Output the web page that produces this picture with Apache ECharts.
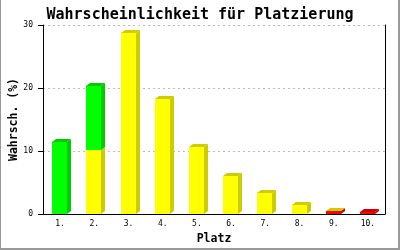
<!DOCTYPE html>
<html>
<head>
<meta charset="utf-8">
<script src="https://cdn.jsdelivr.net/npm/echarts@6/dist/echarts.min.js"></script>
<style>
html,body{margin:0;padding:0;background:#fff;}
#chart{width:400px;height:250px;}
</style>
</head>
<body>
<div id="chart"></div>
<script>
// ---- data ----
const categories = ['1.', '2.', '3.', '4.', '5.', '6.', '7.', '8.', '9.', '10.'];
const redValues    = [0, 0, 0, 0, 0, 0, 0, 0, 0.4, 0.3];
const yellowValues = [0, 10.2, 28.7, 18.3, 10.7, 6.0, 3.3, 1.5, 0.1, 0];
const greenValues  = [11.4, 10.05, 0, 0, 0, 0, 0, 0, 0, 0];
const yTickValues  = [0, 10, 20, 30];
const titleText = 'Wahrscheinlichkeit für Platzierung';
const xName = 'Platz';
const yName = 'Wahrsch. (%)';

// stacking order bottom -> top
const stackSeries = [
  { name: 'rot',  values: redValues,    front: '#ff0000', dark: '#cc0000' },
  { name: 'gelb', values: yellowValues, front: '#ffff00', dark: '#cccc00' },
  { name: 'grün', values: greenValues,  front: '#00ff00', dark: '#00cc00' }
];

const MONO = '"DejaVu Sans Mono", "Liberation Mono", monospace';
const FRONT_W = 15, DX = 4, DY = 3;

function buildData(sIdx) {
  const out = [];
  for (let i = 0; i < categories.length; i++) {
    let base = 0;
    for (let k = 0; k < sIdx; k++) base += stackSeries[k].values[i];
    const v = stackSeries[sIdx].values[i];
    let isTop = 1;
    for (let k = sIdx + 1; k < stackSeries.length; k++) if (stackSeries[k].values[i] > 0) isTop = 0;
    out.push([i, base, base + v, isTop]);
  }
  return out;
}

function makeRender(s) {
  return function (params, api) {
    const i = api.value(0), b = api.value(1), t = api.value(2), isTop = api.value(3);
    if (!(t > b)) return null;
    const pb = api.coord([i, b]);
    const pt = api.coord([i, t]);
    const x0 = Math.round(pb[0]) - 8;
    const x1 = x0 + FRONT_W;
    const yb = Math.round(pb[1]);
    const yt = Math.round(pt[1]);
    const children = [
      { type: 'polygon', shape: { points: [[x1, yt], [x1 + DX, yt - DY], [x1 + DX, yb - DY], [x1, yb]] },
        style: { fill: s.dark } },
      { type: 'rect', shape: { x: x0, y: yt, width: FRONT_W, height: yb - yt },
        style: { fill: s.front } }
    ];
    if (isTop) {
      children.push({ type: 'polygon',
        shape: { points: [[x0, yt], [x0 + DX, yt - DY], [x1 + DX, yt - DY], [x1, yt]] },
        style: { fill: s.dark } });
    }
    return { type: 'group', children: children };
  };
}

const chart = echarts.init(document.getElementById('chart'), null, { renderer: 'canvas' });
chart.setOption({
  animation: false,
  backgroundColor: '#ffffff',
  title: {
    text: titleText, left: 'center', top: 3,
    textStyle: { fontFamily: MONO, fontSize: 15, fontWeight: 'bold', color: '#000' }
  },
  grid: { left: 43, right: 15, top: 25, bottom: 36, containLabel: false, outerBoundsMode: 'none' },
  xAxis: {
    type: 'category', data: categories, boundaryGap: true,
    name: xName, nameLocation: 'middle', nameGap: 19, nameMoveOverlap: false,
    nameTextStyle: { fontFamily: MONO, fontSize: 11.5, fontWeight: 'bold', color: '#000' },
    axisLine: { show: true, lineStyle: { color: '#000', width: 1 } },
    axisTick: { show: false },
    axisLabel: { fontFamily: MONO, fontSize: 8, color: '#000', margin: 6 },
    splitLine: { show: false }
  },
  yAxis: [{
    type: 'value', min: yTickValues[0], max: yTickValues[yTickValues.length - 1], interval: 10,
    name: yName, nameLocation: 'middle', nameRotate: 90, nameGap: 23, nameMoveOverlap: false,
    nameTextStyle: { fontFamily: MONO, fontSize: 11.5, fontWeight: 'bold', color: '#000' },
    axisLine: { show: true, lineStyle: { color: '#000', width: 1 } },
    axisTick: { show: true, inside: false, length: 5, lineStyle: { color: '#000' } },
    axisLabel: { fontFamily: MONO, fontSize: 8, color: '#000', margin: 10 },
    splitLine: { show: true, lineStyle: { color: '#bbbbbb', type: [2, 3], width: 1 } }
  }, {
    type: 'value', position: 'right', min: 0, max: 30, interval: 10,
    axisLine: { show: true, lineStyle: { color: '#000', width: 1 } },
    axisTick: { show: false }, axisLabel: { show: false }, splitLine: { show: false }
  }],
  series: stackSeries.map(function (s, idx) {
    return {
      type: 'custom', name: s.name,
      renderItem: makeRender(s),
      encode: { x: 0, y: [1, 2] },
      data: buildData(idx),
      clip: false
    };
  }),
  graphic: [
    { type: 'rect', left: 0, top: 0, shape: { width: 1, height: 250 }, style: { fill: '#999' } },
    { type: 'rect', left: 398, top: 0, shape: { width: 2, height: 250 }, style: { fill: '#999' } },
    { type: 'rect', left: 0, top: 248, shape: { width: 400, height: 2 }, style: { fill: '#999' } }
  ]
});
</script>
</body>
</html>
